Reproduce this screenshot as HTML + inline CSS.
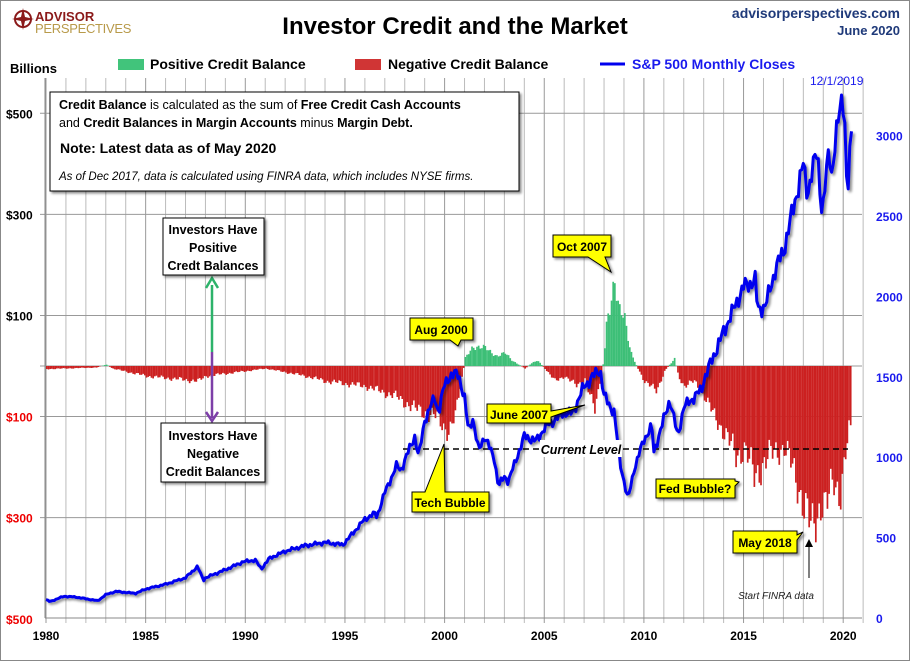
<!DOCTYPE html>
<html><head><meta charset="utf-8"><style>
body{margin:0;background:#fff;}
#w{position:relative;width:910px;height:661px;overflow:hidden;font-family:"Liberation Sans",sans-serif;}
svg{position:absolute;left:0;top:0;}
</style></head><body><div id="w">
<svg id="s" width="910" height="661" xmlns="http://www.w3.org/2000/svg" font-family="Liberation Sans, sans-serif">
<defs>
<filter id="sh" x="-10%" y="-10%" width="130%" height="140%"><feDropShadow dx="2" dy="2" stdDeviation="1.2" flood-color="#000" flood-opacity="0.45"/></filter>
</defs>
<rect x="0.5" y="0.5" width="909" height="660" fill="#fff" stroke="#888"/>
<g id="grid"></g>
<g id="bars"></g>
<line x1="45" y1="618" x2="862" y2="618" stroke="#888"/>
<line x1="45" y1="78" x2="45" y2="618" stroke="#888"/>
<line x1="403" y1="449" x2="848" y2="449" stroke="#000" stroke-width="1.6" stroke-dasharray="6,4"/>
<path id="spx" fill="none" stroke="#0000ee" stroke-width="3" stroke-linejoin="round" filter="url(#sh)"/>
<g id="lab"></g>
<text x="455" y="34" font-size="24" font-weight="bold" text-anchor="middle">Investor Credit and the Market</text>
<text x="900" y="18" font-size="14" font-weight="bold" fill="#1f3a7a" text-anchor="end">advisorperspectives.com</text>
<text x="900" y="35" font-size="13" font-weight="bold" fill="#1f3a7a" text-anchor="end">June 2020</text>
<circle cx="23" cy="19" r="8" fill="none" stroke="#8b1a1a" stroke-width="2"/>
<path d="M23,8 L25,17 L34,19 L25,21 L23,30 L21,21 L12,19 L21,17z" fill="#8b1a1a"/>
<text x="35" y="21" font-size="13" font-weight="bold" fill="#8b1a1a">ADVISOR</text>
<text x="35" y="33" font-size="13" fill="#b89a4a" letter-spacing="-0.3">PERSPECTIVES</text>
<text x="10" y="73" font-size="13" font-weight="bold">Billions</text>
<rect x="118" y="59" width="26" height="11" fill="#41c47b"/>
<text x="150" y="69" font-size="14" font-weight="bold">Positive Credit Balance</text>
<rect x="355" y="59" width="26" height="11" fill="#d03535"/>
<text x="388" y="69" font-size="14" font-weight="bold">Negative Credit Balance</text>
<line x1="600" y1="64" x2="625" y2="64" stroke="#0000ee" stroke-width="3"/>
<text x="632" y="69" font-size="14" font-weight="bold" fill="#1a1aee">S&amp;P 500 Monthly Closes</text>
<text x="810" y="85" font-size="12" fill="#1a1aee">12/1/2019</text>
<rect x="50" y="92" width="469" height="99" fill="#fff" stroke="#000" filter="url(#sh)"/>
<text x="59" y="109" font-size="12.5"><tspan font-weight="bold">Credit Balance</tspan> is calculated as the sum of <tspan font-weight="bold">Free Credit Cash Accounts</tspan></text>
<text x="59" y="127" font-size="12.5">and <tspan font-weight="bold">Credit Balances in Margin Accounts</tspan> minus <tspan font-weight="bold">Margin Debt.</tspan></text>
<text x="60" y="153" font-size="14" font-weight="bold">Note: Latest data as of May 2020</text>
<text x="59" y="180" font-size="11.5" font-style="italic">As of Dec 2017, data is calculated using FINRA data, which includes NYSE firms.</text>
<line x1="212" y1="352" x2="212" y2="285" stroke="#2db36a" stroke-width="2.5"/>
<path d="M206,288 L212,278 L218,288" fill="none" stroke="#2db36a" stroke-width="2.5"/>
<line x1="212" y1="352" x2="212" y2="418" stroke="#7d3fa8" stroke-width="2.5"/>
<path d="M206,412 L212,421 L218,412" fill="none" stroke="#7d3fa8" stroke-width="2.5"/>
<rect x="163" y="218" width="101" height="57" fill="#fff" stroke="#000" filter="url(#sh)"/>
<text x="213" y="234" font-size="12.5" font-weight="bold" text-anchor="middle">Investors Have</text>
<text x="213" y="252" font-size="12.5" font-weight="bold" text-anchor="middle">Positive</text>
<text x="213" y="270" font-size="12.5" font-weight="bold" text-anchor="middle">Credt Balances</text>
<rect x="161" y="423" width="104" height="59" fill="#fff" stroke="#000" filter="url(#sh)"/>
<text x="213" y="440" font-size="12.5" font-weight="bold" text-anchor="middle">Investors Have</text>
<text x="213" y="458" font-size="12.5" font-weight="bold" text-anchor="middle">Negative</text>
<text x="213" y="476" font-size="12.5" font-weight="bold" text-anchor="middle">Credit Balances</text>
<g font-size="12" font-weight="bold">
<path d="M410,318 H473 V340 H461 L458,346 L450,340 H410 z" fill="#ffff00" stroke="#000" filter="url(#sh)"/>
<text x="441" y="334" text-anchor="middle">Aug 2000</text>
<path d="M553,235 H611 V257 H605 L611,272 L588,257 H553 z" fill="#ffff00" stroke="#000" filter="url(#sh)"/>
<text x="582" y="251" text-anchor="middle">Oct 2007</text>
<path d="M487,404 H551 V411 L585,405 L551,417 V423 H487 z" fill="#ffff00" stroke="#000" filter="url(#sh)"/>
<text x="519" y="419" text-anchor="middle">June 2007</text>
<path d="M412,492 H425 L444,444 L445,492 H489 V512 H412 z" fill="#ffff00" stroke="#000" filter="url(#sh)"/>
<text x="450" y="507" text-anchor="middle">Tech Bubble</text>
<path d="M656,479 H735 V481 L739,482 L735,486 V498 H656 z" fill="#ffff00" stroke="#000" filter="url(#sh)"/>
<text x="695" y="493" text-anchor="middle">Fed Bubble?</text>
<path d="M733,531 H797 V535 L803,532 L797,540 V553 H733 z" fill="#ffff00" stroke="#000" filter="url(#sh)"/>
<text x="765" y="547" text-anchor="middle">May 2018</text>
</g>
<rect x="540" y="440" width="82" height="17" fill="#fff"/>
<text x="581" y="454" font-size="12.5" font-weight="bold" font-style="italic" text-anchor="middle">Current Level</text>
<line x1="809" y1="578" x2="809" y2="545" stroke="#000" stroke-width="1"/>
<path d="M805,547 L809,539 L813,547z" fill="#000"/>
<text x="776" y="599" font-size="10" font-style="italic" text-anchor="middle" fill="#222">Start FINRA data</text>
</svg>
<script>
var NS="http://www.w3.org/2000/svg";
function X(y){return 46+(y-1980)*19.93;}
function YL(v){return 366-v*0.5055;}
function YR(v){return 618-v*0.1608;}
function el(p,t,a,txt){var e=document.createElementNS(NS,t);for(var k in a)e.setAttribute(k,a[k]);if(txt!==undefined)e.textContent=txt;document.getElementById(p).appendChild(e);return e;}
for(var y=1980;y<=2021;y++){el("grid","line",{x1:X(y),x2:X(y),y1:78,y2:623,stroke:(y%5==0?"#999":"#bbb"),"stroke-width":1});}
[500,300,100,0,-100,-300].forEach(function(v){el("grid","line",{x1:40,x2:862,y1:YL(v),y2:YL(v),stroke:"#999"});});
var ll=[[500,"$500","#000"],[300,"$300","#000"],[100,"$100","#000"],[-100,"$100","#e00"],[-300,"$300","#e00"],[-500,"$500","#e00"]];
ll.forEach(function(a){el("lab","text",{x:6,y:YL(a[0])+5,"font-size":12,"font-weight":"bold",fill:a[2]},a[1]);});
for(var r=0;r<=3000;r+=500){el("lab","text",{x:876,y:YR(r)+5,"font-size":12,"font-weight":"bold",fill:"#1a1aee"},String(r));}
for(var y=1980;y<=2020;y+=5){el("lab","text",{x:X(y),y:640,"font-size":12,"font-weight":"bold","text-anchor":"middle"},String(y));}
function interp(pts,t){for(var i=0;i<pts.length-1;i++){if(t>=pts[i][0]&&t<=pts[i+1][0]){var f=(t-pts[i][0])/(pts[i+1][0]-pts[i][0]);return pts[i][1]+f*(pts[i+1][1]-pts[i][1]);}}return pts[pts.length-1][1];}
var cb=[[1980,-6],[1982.5,-3],[1983,3],[1983.3,-5],[1985,-20],[1987.6,-30],[1988,-20],[1990,-10],[1991,-5],[1993,-20],[1994,-30],[1996,-40],[1997.5,-60],[1998.5,-85],[1999.5,-100],[2000.2,-130],[2000.5,-100],[2000.8,-30],[2001,15],[2001.4,40],[2002,35],[2002.6,20],[2003,25],[2003.4,10],[2004,-5],[2004.3,5],[2004.6,12],[2005,-5],[2005.5,-30],[2006,-20],[2006.6,-40],[2007,-25],[2007.5,-90],[2007.8,-20],[2007.95,10],[2008.1,85],[2008.5,180],[2008.7,110],[2009,90],[2009.3,30],[2009.6,0],[2010,-30],[2010.6,-50],[2011,-10],[2011.5,15],[2011.7,-20],[2012,-40],[2012.5,-30],[2013,-60],[2013.5,-100],[2014,-130],[2014.6,-180],[2015,-160],[2015.5,-220],[2016,-190],[2016.5,-170],[2017,-160],[2017.4,-200],[2017.9,-260],[2018.4,-330],[2018.9,-260],[2019.1,-280],[2019.5,-230],[2019.8,-250],[2020.1,-170],[2020.3,-120],[2020.42,-160]];
for(var m=0;m<485;m++){var t=1980+m/12;var v=interp(cb,t);v*= (1+0.12*Math.sin(m*1.7)+0.08*Math.sin(m*0.53));
 var x=X(t);if(v>=0){el("bars","rect",{x:x,y:YL(v),width:1.7,height:v*0.5055,fill:"#3dbf77"});}else{el("bars","rect",{x:x,y:366,width:1.7,height:-v*0.5055,fill:"#cc2020"});}}
var sp=[[1980,114],[1980.2,102],[1980.9,135],[1981.5,130],[1982.6,107],[1983,145],[1983.5,165],[1984.5,153],[1985,180],[1986,210],[1987,250],[1987.6,320],[1987.9,235],[1988,250],[1989,300],[1989.9,350],[1990.5,360],[1990.8,305],[1991.2,370],[1992,415],[1993,450],[1994,470],[1994.9,455],[1995,470],[1996,615],[1996.5,650],[1996.6,630],[1997,780],[1997.6,950],[1997.8,915],[1998,980],[1998.5,1130],[1998.7,1000],[1999,1230],[1999.5,1370],[1999.7,1280],[2000,1450],[2000.2,1500],[2000.7,1520],[2001,1360],[2001.2,1160],[2001.4,1250],[2001.7,1040],[2002,1130],[2002.5,990],[2002.7,820],[2003,880],[2003.2,850],[2004,1130],[2004.6,1100],[2005,1180],[2006,1280],[2006.4,1270],[2007,1440],[2007.8,1550],[2008,1380],[2008.5,1280],[2008.8,970],[2009.2,735],[2009.5,920],[2010,1110],[2010.4,1190],[2010.5,1030],[2011.3,1360],[2011.7,1130],[2012,1310],[2012.9,1420],[2013,1480],[2014,1780],[2015,2060],[2015.6,2100],[2015.7,1920],[2016.1,1940],[2016.6,2170],[2017,2280],[2018,2820],[2018.2,2640],[2018.7,2910],[2018.95,2500],[2019.3,2940],[2019.4,2750],[2019.9,3230],[2020.05,3220],[2020.2,2580],[2020.42,3040]];
var d="";for(var m=0;m<=485;m++){var t=1980+m/12;if(t>2020.42)t=2020.42;var v=interp(sp,t);v*=1+0.018*Math.sin(m*2.3)+0.012*Math.sin(m*0.9);d+=(m?"L":"M")+X(t).toFixed(1)+","+YR(v).toFixed(1);}
document.getElementById("spx").setAttribute("d",d);
</script>
</div></body></html>
